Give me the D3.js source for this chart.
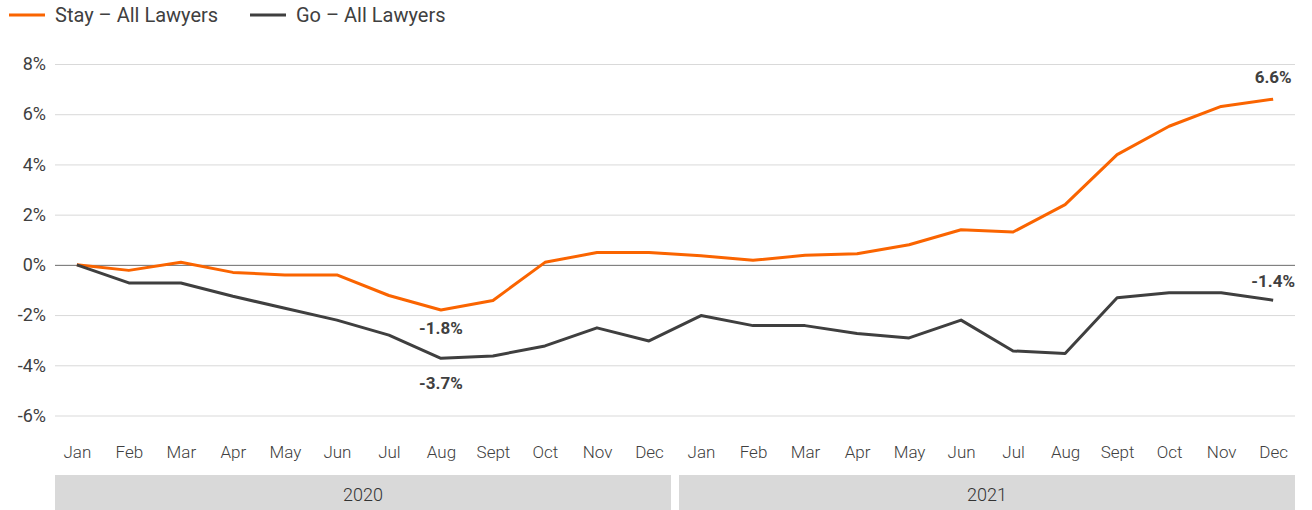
<!DOCTYPE html>
<html>
<head>
<meta charset="utf-8">
<script src="https://cdn.jsdelivr.net/npm/d3@7"></script>
<style>
  html, body { margin: 0; padding: 0; background: #fff; }
  svg { display: block; font-family: Roboto, "Noto Sans", sans-serif; }
</style>
</head>
<body>
<svg id="chart" width="1312" height="510"></svg>
<script>
const months = ["Jan","Feb","Mar","Apr","May","Jun","Jul","Aug","Sept","Oct","Nov","Dec",
                "Jan","Feb","Mar","Apr","May","Jun","Jul","Aug","Sept","Oct","Nov","Dec"];
const years = ["2020","2021"];
const stayValues = [0, -0.22, 0.1, -0.3, -0.4, -0.4, -1.22, -1.8, -1.42, 0.1, 0.49, 0.49,
                    0.36, 0.18, 0.38, 0.44, 0.8, 1.4, 1.31, 2.4, 4.39, 5.52, 6.31, 6.6];
const goValues = [0, -0.72, -0.72, -1.25, -1.73, -2.2, -2.8, -3.72, -3.63, -3.23, -2.51, -3.03,
                  -2.02, -2.42, -2.42, -2.73, -2.91, -2.2, -3.43, -3.53, -1.31, -1.11, -1.11, -1.41];
const yTicks = [-6, -4, -2, 0, 2, 4, 6, 8];
const seriesNames = ["Stay – All Lawyers", "Go – All Lawyers"];
const seriesColors = ["#fa6400", "#3f3f3f"];
const annotations = [
  {series: 0, index: 7, text: "-1.8%", dy: 18},
  {series: 1, index: 7, text: "-3.7%", dy: 25},
  {series: 0, index: 23, text: "6.6%", dy: -22},
  {series: 1, index: 23, text: "-1.4%", dy: -19}
];

const svg = d3.select("#chart");
const left = 55, right = 1295;
const textColor = "#404040";

const x = d3.scalePoint().domain(d3.range(months.length)).range([left, right]).padding(0.42);
const y = d3.scaleLinear().domain([-6, 8]).range([415.5, 64]);
const yearBand = d3.scaleBand().domain(years).range([left, right]).paddingInner(0.0128).paddingOuter(0);

// Y axis + gridlines
const yAxis = svg.append("g")
  .attr("transform", `translate(${left},0)`)
  .call(d3.axisLeft(y).tickValues(yTicks).tickSize(-(right - left)).tickPadding(9).tickFormat(d => d + "%"));
yAxis.select(".domain").remove();
yAxis.selectAll(".tick line")
  .attr("stroke", d => d === 0 ? "#6b6b6b" : "#d9d9d9")
  .attr("stroke-width", 1);
yAxis.selectAll(".tick text")
  .attr("fill", textColor)
  .style("font-size", "18px")
  .style("font-family", "Roboto, sans-serif");

// X axis month labels
const xAxis = svg.append("g")
  .attr("transform", `translate(0,446)`)
  .call(d3.axisBottom(x).tickSize(0).tickPadding(0).tickFormat(i => months[i]));
xAxis.select(".domain").remove();
xAxis.selectAll(".tick text")
  .attr("fill", textColor)
  .attr("dy", "0.71em")
  .style("font-size", "17px")
  .style("font-weight", "300")
  .style("font-family", "Roboto, sans-serif");

// Year bands
const yearG = svg.append("g");
yearG.selectAll("rect").data(years).join("rect")
  .attr("x", d => yearBand(d))
  .attr("y", 475)
  .attr("width", yearBand.bandwidth())
  .attr("height", 35)
  .attr("fill", "#d9d9d9");
yearG.selectAll("text").data(years).join("text")
  .attr("x", d => yearBand(d) + yearBand.bandwidth() / 2)
  .attr("y", 495)
  .attr("dy", "0.35em")
  .attr("text-anchor", "middle")
  .attr("fill", "#333")
  .style("font-size", "18px")
  .style("font-weight", "300")
  .text(d => d);

// Lines
const allSeries = [stayValues, goValues];
const line = d3.line().x((d, i) => x(i)).y(d => y(d));
svg.append("g").selectAll("path").data(allSeries).join("path")
  .attr("d", line)
  .attr("fill", "none")
  .attr("stroke", (d, i) => seriesColors[i])
  .attr("stroke-width", 3)
  .attr("stroke-linejoin", "round");

// Annotations
svg.append("g").selectAll("text").data(annotations).join("text")
  .attr("x", d => x(d.index))
  .attr("y", d => y(allSeries[d.series][d.index]) + d.dy)
  .attr("dy", "0.35em")
  .attr("text-anchor", "middle")
  .attr("fill", textColor)
  .style("font-size", "17px")
  .style("font-weight", "bold")
  .text(d => d.text);

// Legend
const legendX = [9, 250];
const legend = svg.append("g").selectAll("g").data(seriesNames).join("g")
  .attr("transform", (d, i) => `translate(${legendX[i]},15)`);
legend.append("line")
  .attr("x1", 0).attr("x2", 36).attr("y1", 0).attr("y2", 0)
  .attr("stroke", (d, i) => seriesColors[i])
  .attr("stroke-width", 3);
legend.append("text")
  .attr("x", 46)
  .attr("y", 0)
  .attr("dy", "0.35em")
  .attr("fill", textColor)
  .style("font-size", "20px")
  .text(d => d);
</script>
</body>
</html>
